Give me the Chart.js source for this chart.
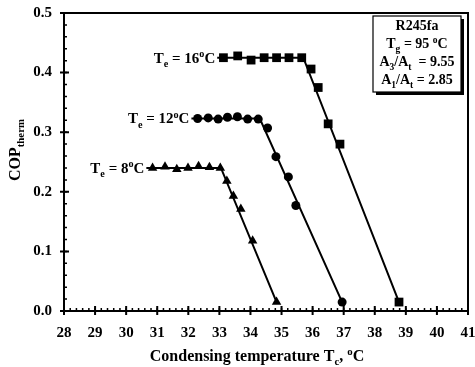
<!DOCTYPE html>
<html><head><meta charset="utf-8">
<script src="https://cdn.jsdelivr.net/npm/chart.js@4/dist/chart.umd.min.js"></script>
<style>html,body{margin:0;padding:0;background:#fff}#wrap{width:475px;height:367px}</style>
</head><body><div id="wrap"><canvas id="c" width="475" height="367"></canvas></div>
<script>
// ---- data ----
const xRange = [28, 41];
const yRange = [0, 0.5];
const xStep = 1;
const yStep = 0.1;

const teLabels = ['8', '12', '16'];

const tempTe8  = [30.85, 31.25, 31.63, 31.99, 32.33, 32.68, 33.03, 33.24, 33.45, 33.69, 34.07, 34.84];
const copTe8   = [0.240, 0.242, 0.238, 0.240, 0.243, 0.241, 0.240, 0.218, 0.193, 0.171, 0.118, 0.015];
const tempTe12 = [32.30, 32.64, 32.96, 33.26, 33.58, 33.91, 34.25, 34.55, 34.82, 35.22, 35.46, 36.95];
const copTe12  = [0.323, 0.324, 0.322, 0.325, 0.326, 0.322, 0.322, 0.307, 0.259, 0.225, 0.177, 0.015];
const tempTe16 = [33.13, 33.59, 34.02, 34.44, 34.84, 35.24, 35.65, 35.95, 36.18, 36.50, 36.88, 38.78];
const copTe16  = [0.425, 0.428, 0.421, 0.425, 0.425, 0.425, 0.425, 0.406, 0.375, 0.314, 0.280, 0.015];

const fitTe8T  = [30.65, 33.05, 34.84];
const fitTe8C  = [0.240, 0.240, 0.015];
const fitTe12T = [32.10, 34.30, 36.95];
const fitTe12C = [0.323, 0.323, 0.015];
const fitTe16T = [32.93, 35.70, 38.78];
const fitTe16C = [0.425, 0.425, 0.015];

const infoRefrigerant = 'R245fa';
const infoTg = '95';
const infoA3 = '9.55';
const infoA1 = '2.85';

// ---- helpers ----
const FAM = "'Liberation Serif','Times New Roman',serif";
const pts = (xs, ys) => xs.map((x, i) => ({x, y: ys[i]}));

function richWidth(ctx, parts, size) {
  let w = 0;
  for (const [t, m] of parts) {
    const s = m ? size * 0.68 : size;
    ctx.font = 'bold ' + s + 'px ' + FAM;
    w += ctx.measureText(t).width;
  }
  return w;
}
function drawRich(ctx, parts, x, y, align, size) {
  const w = richWidth(ctx, parts, size);
  let cx = align === 'center' ? x - w / 2 : align === 'right' ? x - w : x;
  ctx.textBaseline = 'alphabetic';
  ctx.textAlign = 'left';
  ctx.fillStyle = '#000';
  for (const [t, m] of parts) {
    const s = m ? size * 0.68 : size;
    ctx.font = 'bold ' + s + 'px ' + FAM;
    const dy = m === 'sub' ? size * 0.28 : m === 'sup' ? -size * 0.38 : 0;
    ctx.fillText(t, cx, y + dy);
    cx += ctx.measureText(t).width;
  }
}

const decor = {
  id: 'decor',
  afterDatasetsDraw(chart) {
    const {ctx, chartArea: a, scales: {x, y}} = chart;
    ctx.save();
    ctx.strokeStyle = '#000';
    ctx.lineWidth = 2;
    ctx.strokeRect(a.left, a.top, a.right - a.left, a.bottom - a.top);
    ctx.beginPath();
    for (let v = xRange[0]; v <= xRange[1] + 1e-9; v += xStep) {
      const px = x.getPixelForValue(v);
      ctx.moveTo(px, a.bottom + 4); ctx.lineTo(px, a.bottom - 5);
    }
    for (let v = yRange[0]; v <= yRange[1] + 1e-9; v += yStep) {
      const py = y.getPixelForValue(v);
      ctx.moveTo(a.left - 4, py); ctx.lineTo(a.left + 5, py);
    }
    ctx.stroke();
    ctx.lineWidth = 1.5;
    ctx.beginPath();
    for (let v = xRange[0]; v <= xRange[1] + 1e-9; v += xStep / 5) {
      const px = x.getPixelForValue(v);
      ctx.moveTo(px, a.bottom); ctx.lineTo(px, a.bottom - 3);
    }
    for (let v = yRange[0]; v <= yRange[1] + 1e-9; v += yStep / 5) {
      const py = y.getPixelForValue(v);
      ctx.moveTo(a.left, py); ctx.lineTo(a.left + 3, py);
    }
    ctx.stroke();

    // series labels
    const fits = [[fitTe8T, fitTe8C], [fitTe12T, fitTe12C], [fitTe16T, fitTe16C]];
    fits.forEach(([ft, fc], i) => {
      const px = x.getPixelForValue(ft[0]) - 2;
      const py = y.getPixelForValue(fc[0]) + 5;
      drawRich(ctx, [['T', ''], ['e', 'sub'], [' = ' + teLabels[i], ''], ['o', 'sup'], ['C', '']], px, py, 'right', 15);
    });

    // info box
    const bx = 373, by = 16, bw = 88, bh = 76;
    ctx.fillStyle = '#000';
    ctx.fillRect(bx + 3, by + 3, bw, bh);
    ctx.fillStyle = '#fff';
    ctx.fillRect(bx, by, bw, bh);
    ctx.lineWidth = 1.2;
    ctx.strokeRect(bx, by, bw, bh);
    const cx = bx + bw / 2;
    drawRich(ctx, [[infoRefrigerant, '']], cx, by + 14, 'center', 14);
    drawRich(ctx, [['T', ''], ['g', 'sub'], [' = ' + infoTg + ' ', ''], ['o', 'sup'], ['C', '']], cx, by + 32, 'center', 14);
    drawRich(ctx, [['A', ''], ['3', 'sub'], ['/A', ''], ['t', 'sub'], ['  = ' + infoA3, '']], cx, by + 50, 'center', 14);
    drawRich(ctx, [['A', ''], ['1', 'sub'], ['/A', ''], ['t', 'sub'], [' = ' + infoA1, '']], cx, by + 68, 'center', 14);

    // axis titles
    drawRich(ctx, [['Condensing temperature T', ''], ['c', 'sub'], [', ', ''], ['o', 'sup'], ['C', '']], 257, 361, 'center', 16);
    ctx.save();
    ctx.translate(20, 150);
    ctx.rotate(-Math.PI / 2);
    drawRich(ctx, [['COP', ''], ['therm', 'sub']], 0, 0, 'center', 16);
    ctx.restore();
    ctx.restore();
  }
};

const lineDs = (xs, ys) => ({type: 'line', data: pts(xs, ys), borderColor: '#000', borderWidth: 2,
  pointRadius: 0, fill: false, tension: 0, showLine: true});
const markDs = (xs, ys, style, r) => ({type: 'scatter', data: pts(xs, ys), pointStyle: style,
  pointRadius: r, pointHoverRadius: r, backgroundColor: '#000', borderColor: '#000', borderWidth: 0, showLine: false});

new Chart(document.getElementById('c'), {
  type: 'scatter',
  data: {datasets: [
    lineDs(fitTe8T, fitTe8C), lineDs(fitTe12T, fitTe12C), lineDs(fitTe16T, fitTe16C),
    markDs(tempTe8, copTe8, 'triangle', 5.5),
    markDs(tempTe12, copTe12, 'circle', 4.5),
    markDs(tempTe16, copTe16, 'rect', 6.2)
  ]},
  plugins: [decor],
  options: {
    responsive: false, animation: false, devicePixelRatio: 1,
    layout: {padding: {top: 13, right: 7, left: 0, bottom: 0}},
    plugins: {legend: {display: false}, tooltip: {enabled: false}},
    scales: {
      x: {type: 'linear', min: xRange[0], max: xRange[1],
        grid: {display: false, drawTicks: false}, border: {display: false},
        ticks: {stepSize: xStep, color: '#000', padding: 13, maxRotation: 0,
          font: {family: FAM, weight: 'bold', size: 15}},
        afterFit: s => { s.height = 56; s.paddingLeft = 0; s.paddingRight = 0; }},
      y: {type: 'linear', min: yRange[0], max: yRange[1],
        grid: {display: false, drawTicks: false}, border: {display: false},
        ticks: {stepSize: yStep, color: '#000', padding: 12,
          font: {family: FAM, weight: 'bold', size: 15},
          callback: v => v.toFixed(1)},
        afterFit: s => { s.width = 64; s.paddingTop = 0; s.paddingBottom = 0; }}
    }
  }
});
</script></body></html>
